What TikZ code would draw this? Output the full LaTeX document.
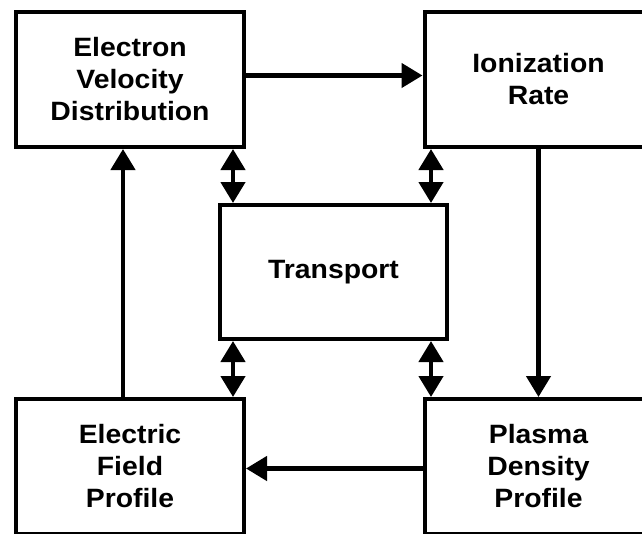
\documentclass[tikz,border=0pt]{standalone}
\usepackage{fontspec}
\setmainfont{Liberation Sans}[FakeStretch=1.07]
\usetikzlibrary{arrows.meta,positioning}

\begin{document}
\begin{tikzpicture}[x=1pt,y=-1pt,
  box/.style={draw, line width=4pt, minimum width=228pt, minimum height=135pt,
    align=center, font=\fontsize{26.5}{32}\selectfont\bfseries},
  link/.style={line width=4.5pt, -{Triangle[length=21pt,width=24pt]}},
  both/.style={line width=4.5pt, {Triangle[length=21pt,width=24pt]}-{Triangle[length=21pt,width=24pt]}}]
  \useasboundingbox (0,0) rectangle (642,533);
  \node[box] (evd) at (130,79.5) {Electron\\Velocity\\Distribution};
  \node[box] (ion) at (538.5,79.5) {Ionization\\Rate};
  \node[box, minimum width=227pt, minimum height=134pt] (tr) at (333.5,272) {Transport};
  \node[box] (efp) at (130,466.5) {Electric\\Field\\Profile};
  \node[box] (pdp) at (538.5,466.5) {Plasma\\Density\\Profile};
  % loop round the outside
  \draw[link] ([yshift=4pt]evd.east) -- ([yshift=4pt]evd.east -| ion.west);
  \draw[link] (ion.south) -- (ion.south |- pdp.north);
  \draw[link] ([yshift=-2pt]pdp.west) -- ([yshift=-2pt]pdp.west -| efp.east);
  \draw[link] ([xshift=-7pt]efp.north) -- ([xshift=-7pt]evd.south);
  % transport couplings
  \draw[both] ([xshift=15pt]tr.north west) -- ([xshift=15pt]tr.north west |- evd.south);
  \draw[both] ([xshift=-18pt]tr.north east) -- ([xshift=-18pt]tr.north east |- ion.south);
  \draw[both] ([xshift=15pt]tr.south west) -- ([xshift=15pt]tr.south west |- efp.north);
  \draw[both] ([xshift=-18pt]tr.south east) -- ([xshift=-18pt]tr.south east |- pdp.north);
\end{tikzpicture}
\end{document}
